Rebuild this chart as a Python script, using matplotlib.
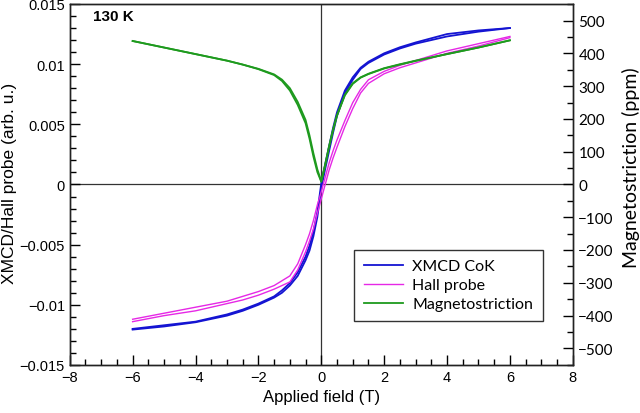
import matplotlib
matplotlib.use('Agg')
import matplotlib.pyplot as plt
from matplotlib.ticker import MultipleLocator, FuncFormatter

# applied field (T)
field = [-6, -5, -4, -3, -2.5, -2, -1.5, -1.25, -1, -0.75, -0.5, -0.375, -0.25, -0.125, 0,
         0.125, 0.25, 0.375, 0.5, 0.75, 1, 1.25, 1.5, 2, 2.5, 3, 4, 5, 6]

# XMCD Co K edge, two branches of the loop (arb. u.)
xmcd_up = [-0.01206, -0.0118, -0.01145, -0.0109, -0.0105, -0.0100, -0.0094, -0.0090, -0.0084, -0.0076, -0.0063,
           -0.0055, -0.0043, -0.0027, -0.0003,
           0.0013, 0.0028, 0.0043, 0.0057, 0.0076, 0.0087, 0.0096, 0.0101, 0.0108, 0.0113, 0.0117, 0.0123, 0.0127, 0.0130]
xmcd_down = [-0.01200, -0.0117, -0.01140, -0.0108, -0.0104, -0.0099, -0.0093, -0.0088, -0.0082, -0.0073, -0.0060,
             -0.0051, -0.0039, -0.0023, 0.0001,
             0.0017, 0.0032, 0.0047, 0.0060, 0.0078, 0.0089, 0.0097, 0.0102, 0.0109, 0.0114, 0.0118, 0.0125, 0.0128, 0.0130]

# Hall probe, two branches
hall_up = [-0.01140, -0.0109, -0.0105, -0.0099, -0.0096, -0.0092, -0.0087, -0.0084, -0.0081, -0.0071, -0.0056,
           -0.0047, -0.0037, -0.0024, -0.0012,
           0.0000, 0.0012, 0.0022, 0.0031, 0.0048, 0.0063, 0.0076, 0.0084, 0.0092, 0.0097, 0.0101, 0.0109, 0.0115, 0.0122]
hall_down = [-0.01120, -0.0107, -0.0102, -0.0097, -0.0093, -0.0089, -0.0084, -0.0080, -0.0076, -0.0066, -0.0050,
             -0.0041, -0.0030, -0.0017, -0.0006,
             0.0006, 0.0018, 0.0028, 0.0037, 0.0053, 0.0068, 0.0079, 0.0087, 0.0094, 0.0099, 0.0103, 0.0111, 0.0117, 0.0123]

# magnetostriction (ppm), two branches
ms_up = [438, 418, 398, 378, 366, 352, 334, 316, 287, 243, 187, 140, 85, 38, 8,
         58, 115, 165, 210, 272, 307, 326, 337, 354, 366, 377, 398, 418, 440]
ms_down = [438, 418, 398, 378, 366, 353, 336, 320, 294, 252, 197, 150, 95, 46, 10,
           62, 118, 168, 212, 274, 309, 327, 338, 355, 367, 378, 398, 418, 440]

blue = '#1414d2'
pink = '#e628e6'
green = '#1e9a1e'

plt.rcParams['font.family'] = ['Liberation Sans', 'DejaVu Sans']

fig = plt.figure(figsize=(6.4, 4.14), dpi=100)
ax = fig.add_axes([0.109, 0.116, 0.786, 0.872])
ax2 = ax.twinx()

l1, = ax.plot(field, xmcd_up, color=blue, lw=1.3, label='XMCD CoK')
ax.plot(field, xmcd_down, color=blue, lw=1.3)
l2, = ax.plot(field, hall_up, color=pink, lw=1.0, label='Hall probe')
ax.plot(field, hall_down, color=pink, lw=1.0)
l3, = ax2.plot(field, ms_up, color=green, lw=1.3, label='Magnetostriction')
ax2.plot(field, ms_down, color=green, lw=1.3)

ax.axhline(0, color='#333333', lw=0.9, zorder=0)
ax.axvline(0, color='#333333', lw=0.9, zorder=0)

ax.set_xlim(-8, 8)
ax.set_ylim(-0.015, 0.015)
ax2.set_ylim(-551, 551)

ax.xaxis.set_major_locator(MultipleLocator(2))
ax.xaxis.set_minor_locator(MultipleLocator(0.5))
ax.yaxis.set_major_locator(MultipleLocator(0.005))
ax.yaxis.set_minor_locator(MultipleLocator(0.001))
ax2.yaxis.set_major_locator(MultipleLocator(100))
ax2.yaxis.set_minor_locator(MultipleLocator(50))

def fmt_left(v, pos):
    if abs(v) < 1e-9:
        return '0'
    return ('%g' % v).replace('-', '\u2212')

def fmt_int(v, pos):
    return ('%d' % round(v)).replace('-', '\u2212')

ax.yaxis.set_major_formatter(FuncFormatter(fmt_left))
ax.xaxis.set_major_formatter(FuncFormatter(fmt_int))
ax2.yaxis.set_major_formatter(FuncFormatter(fmt_int))

ax.tick_params(axis='both', which='major', direction='in', length=7, width=1, labelsize=10.5)
ax.tick_params(axis='both', which='minor', direction='in', length=4, width=1)
ax.tick_params(axis='y', right=False)
ax2.tick_params(axis='y', which='major', direction='in', length=7, width=1, labelsize=11, pad=4)
ax2.tick_params(axis='y', which='minor', direction='in', length=4, width=1)
for t in ax2.get_yticklabels():
    t.set_family('Lato')

for a in (ax, ax2):
    for s in a.spines.values():
        s.set_linewidth(1.0)
        s.set_color('#222222')

ax.set_xlabel('Applied field (T)', fontsize=12, labelpad=4)
ax.set_ylabel('XMCD/Hall probe (arb. u.)', fontsize=12.5)
ax.yaxis.set_label_coords(-0.105, 0.505)
ax2.set_ylabel('Magnetostriction (ppm)', fontsize=14, family='Lato')
ax2.yaxis.set_label_coords(1.097, 0.55)

ax.text(0.046, 0.966, '130 K', transform=ax.transAxes, fontsize=11,
        fontweight='bold', va='center', ha='left')

leg = ax2.legend(handles=[l1, l2, l3], loc='lower left', bbox_to_anchor=(0.565, 0.122),
                 prop={'family': 'Lato', 'size': 11.5}, frameon=True, fancybox=False,
                 handlelength=2.5, handletextpad=0.55, borderpad=0.6, labelspacing=0.3,
                 borderaxespad=0)
leg.get_frame().set_edgecolor('black')
leg.get_frame().set_linewidth(1.0)

fig.savefig('out.png', dpi=100)
